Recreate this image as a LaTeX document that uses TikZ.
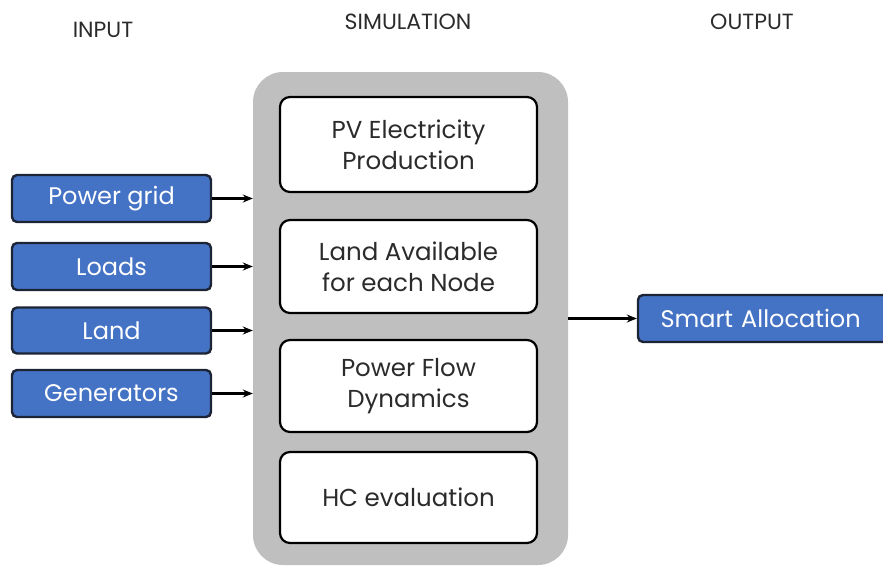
\documentclass[tikz,border=0pt]{standalone}
\usepackage{fontspec}
\setmainfont{Poppins}
\usetikzlibrary{arrows.meta}
\definecolor{boxblue}{HTML}{4472C4}
\definecolor{boxedge}{HTML}{1C2435}
\definecolor{simgray}{HTML}{BFBFBF}
\definecolor{txtgray}{HTML}{2B2B2B}
\begin{document}
\begin{tikzpicture}[x=1pt,y=-1pt,
  inbox/.style={draw=boxedge,line width=2.4pt,fill=boxblue,rounded corners=5pt,text=white,font=\fontsize{24}{28}\selectfont,inner sep=0pt},
  simbox/.style={draw=black,line width=2.2pt,fill=white,rounded corners=10pt,text=txtgray,font=\fontsize{24.5}{31}\selectfont,align=center,inner sep=0pt},
  head/.style={text=txtgray,font=\fontsize{22}{26}\selectfont},
  arr/.style={-{Stealth[length=10pt,width=8pt]},line width=2.4pt,black}]
\useasboundingbox (0,0) rectangle (883,565);
\node[fill=simgray,rounded corners=30pt,minimum width=315pt,minimum height=493pt,inner sep=0pt] (sim) at (410.5,318.5) {};
\node[head] (hin) at (103,30) {INPUT};
\node[head] (hsim) at (408,22) {SIMULATION};
\node[head] (hout) at (752,22) {OUTPUT};
\node[simbox,minimum width=257pt,minimum height=95pt] (pv) at (408.5,144.5) {PV Electricity\\Production};
\node[simbox,minimum width=257pt,minimum height=93pt] (la) at (408.5,266.5) {Land Available\\for each Node};
\node[simbox,minimum width=257pt,minimum height=92pt] (pf) at (408.5,386) {Power Flow\\Dynamics};
\node[simbox,minimum width=257pt,minimum height=91pt] (hc) at (408.5,497.5) {HC evaluation};
\node[inbox,minimum width=199pt,minimum height=47pt] (pg) at (111.5,198.5) {Power grid};
\node[inbox,minimum width=199pt,minimum height=47pt] (ld) at (111.5,266.5) {Loads};
\node[inbox,minimum width=199pt,minimum height=46pt] (lnd) at (111.5,330.5) {Land};
\node[inbox,minimum width=199pt,minimum height=47pt] (gen) at (111.5,393.5) {Generators};
\node[inbox,minimum width=250pt,minimum height=47pt,text width=245pt,align=left] (sa) at (763,318.5) {\hspace*{20pt}Smart Allocation};
\draw[arr] (pg.east) -- (pg.east -| sim.west);
\draw[arr] (ld.east) -- (ld.east -| sim.west);
\draw[arr] (lnd.east) -- (lnd.east -| sim.west);
\draw[arr] (gen.east) -- (gen.east -| sim.west);
\draw[arr] (sim.east |- sa.west) -- (sa.west);
\end{tikzpicture}
\end{document}
